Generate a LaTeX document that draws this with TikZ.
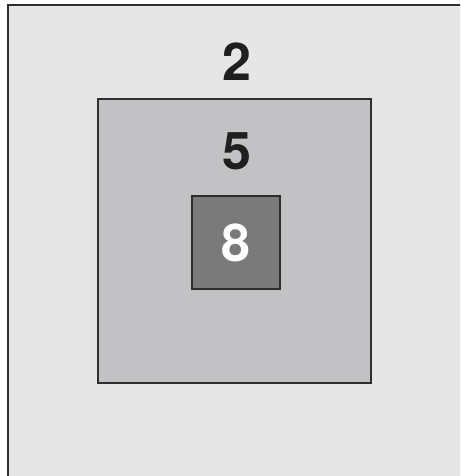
\documentclass[tikz,border=0pt]{standalone}
\usepackage{fontspec}
\setmainfont{TeX Gyre Heros}
\definecolor{outerfill}{HTML}{E6E6E6}
\definecolor{midfill}{HTML}{C2C2C5}
\definecolor{innerfill}{HTML}{7A7A7A}
\definecolor{edge}{HTML}{2E2E2E}
\begin{document}
\begin{tikzpicture}[x=1pt,y=-1pt,
  box/.style={draw=edge,line width=2.7pt},
  num/.style={font=\fontsize{52}{52}\selectfont\bfseries,inner sep=0pt}]
\useasboundingbox (0,0) rectangle (460,476);
\fill[white] (0,0) rectangle (460,476);
\begin{scope}
\clip (0,0) rectangle (460,476);
\path[box,fill=outerfill] (8,5) rectangle (475,490);
\end{scope}
\path[box,fill=midfill] (98,99) rectangle (371,383);
\path[box,fill=innerfill] (192,196) rectangle (280,289);
\node[num,text=black!88] (two) at (237,62) {2};
\node[num,text=black!88] (five) at (237,151) {5};
\node[num,text=white] (eight) at (236,243) {8};
\end{tikzpicture}
\end{document}
